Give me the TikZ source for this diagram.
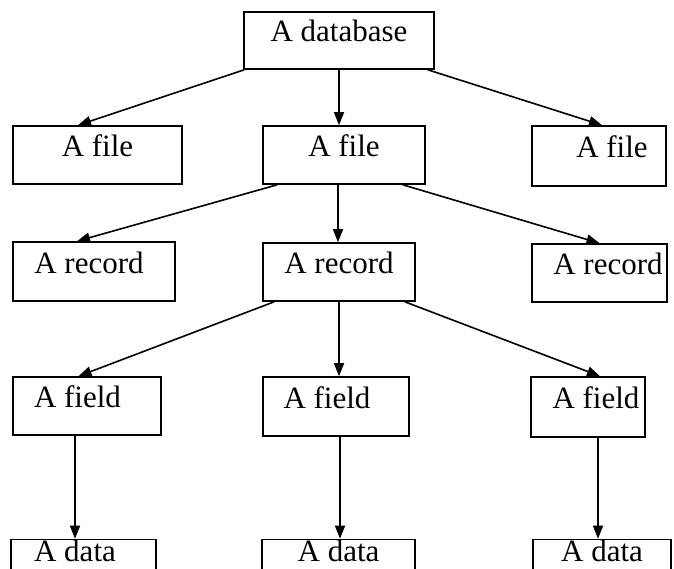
\documentclass[tikz,border=0pt]{standalone}
\usepackage{fontspec}
\setmainfont{Liberation Serif}
\usetikzlibrary{arrows.meta}

\begin{document}
\begin{tikzpicture}[x=1pt, y=-1pt,
  every node/.style={font=\fontsize{31}{36}\selectfont},
  box/.style={draw, line width=1.6pt, rectangle, inner sep=0pt, text height=22pt, text depth=19pt},
  wh/.style 2 args={minimum width=#1pt, minimum height=#2pt},
  push/.style={execute at begin node={\hspace*{#1pt}}},
  pull/.style={execute at end node={\hspace*{#1pt}}},
  arr/.style={line width=1.6pt, -{Triangle[length=13pt,width=10pt]}}]
  \clip[use as bounding box] (0,0) rectangle (674,569);
  \node[box, wh={190}{57}] (db) at (339,40.5) {A database};
  \node[box, wh={169}{58}] (f1) at (97.5,155) {A file};
  \node[box, wh={162}{58}] (f2) at (344,155) {A file};
  \node[box, wh={134}{60}, push=26] (f3) at (599,156) {A file};
  \node[box, wh={162}{59}, pull=10] (r1) at (94,271.5) {A record};
  \node[box, wh={152}{58}] (r2) at (339,272) {A record};
  \node[box, wh={135}{58}, push=17] (r3) at (599.5,273) {A record};
  \node[box, wh={148}{58}, pull=19] (d1) at (87,406) {A field};
  \node[box, wh={146}{59}, pull=18] (d2) at (336,406.5) {A field};
  \node[box, wh={114}{60}, push=16] (d3) at (588,407) {A field};
  \node[box, wh={145}{38}, pull=17] (v1) at (83.5,560) {A data};
  \node[box, wh={153}{38}] (v2) at (338.5,560) {A data};
  \node[box, wh={138}{38}] (v3) at (602,560) {A data};
  \draw[arr] ([xshift=1]db.south west) -- ([xshift=-19.5]f1.north);
  \draw[arr] (db.south) -- (db.south |- f2.north);
  \draw[arr] ([xshift=-7]db.south east) -- ([xshift=3]f3.north);
  \draw[arr] ([xshift=15]f2.south west) -- ([xshift=-17]r1.north);
  \draw[arr] ([xshift=-6]f2.south) -- ([xshift=-6]f2.south |- r2.north);
  \draw[arr] ([xshift=-23]f2.south east) -- (r3.north);
  \draw[arr] ([xshift=12]r2.south west) -- ([xshift=-8.5]d1.north);
  \draw[arr] (r2.south) -- (r2.south |- d2.north);
  \draw[arr] ([xshift=-11]r2.south east) -- ([xshift=12]d3.north);
  \draw[arr] ([xshift=-12]d1.south) -- ([xshift=-12]d1.south |- v1.north);
  \draw[arr] ([xshift=4]d2.south) -- ([xshift=4]d2.south |- v2.north);
  \draw[arr] ([xshift=10]d3.south) -- ([xshift=10]d3.south |- v3.north);
\end{tikzpicture}
\end{document}
